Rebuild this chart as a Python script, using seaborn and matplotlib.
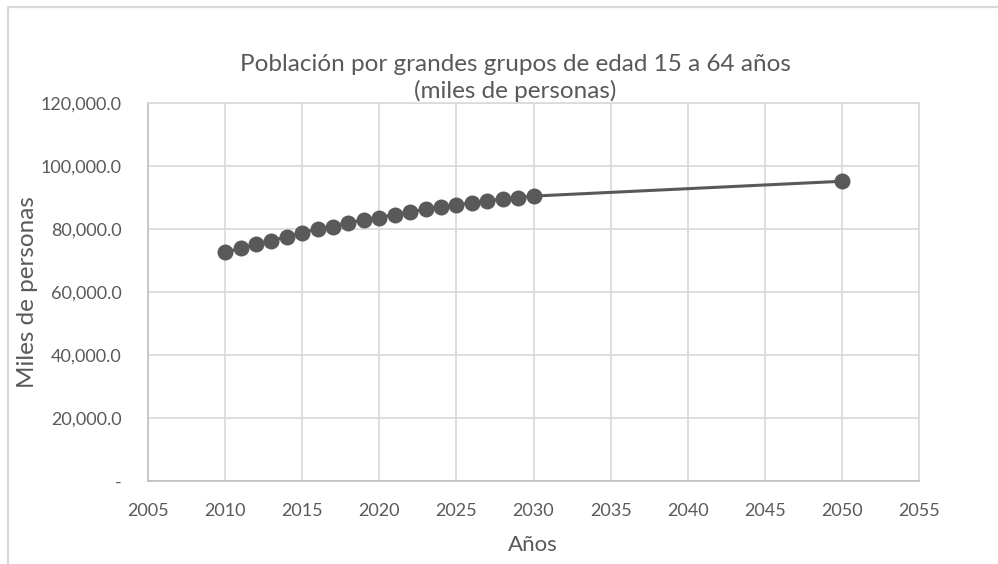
import matplotlib
matplotlib.use("Agg")
import matplotlib.pyplot as plt
import matplotlib.ticker as mticker
from matplotlib.lines import Line2D
import seaborn as sns
import pandas as pd

years = [2010, 2011, 2012, 2013, 2014, 2015, 2016, 2017, 2018, 2019, 2020,
         2021, 2022, 2023, 2024, 2025, 2026, 2027, 2028, 2029, 2030, 2050]
poblacion = [72600, 73900, 75150, 76300, 77550, 78800, 80000, 80750, 82000, 82850, 83600,
             84600, 85450, 86200, 86950, 87700, 88300, 88950, 89500, 90000, 90450, 95150]
title_text = "Población por grandes grupos de edad 15 a 64 años\n(miles de personas)"
x_label = "Años"
y_label = "Miles de personas"

sns.set_theme(style="white")
plt.rcParams['font.family'] = ['Lato', 'DejaVu Sans']

TXT = "#595959"
GRID = "#d9d9d9"

df = pd.DataFrame({"year": years, "value": poblacion})

fig = plt.figure(figsize=(9.98, 5.64), dpi=100)
ax = fig.add_axes([148/998, 1-481/564, (919-148)/998, (481-103)/564])

sns.lineplot(data=df, x="year", y="value", ax=ax, color="#595959",
             linewidth=2.2, marker="o", markersize=11.5, markeredgewidth=0,
             markerfacecolor="#595959")

ax.set_xlim(2005, 2055)
ax.set_ylim(0, 120000)
ax.xaxis.set_major_locator(mticker.MultipleLocator(5))
ax.yaxis.set_major_locator(mticker.MultipleLocator(20000))

def yfmt(v, pos):
    if abs(v) < 1e-9:
        return "-"
    return f"{v:,.1f}"
ax.yaxis.set_major_formatter(mticker.FuncFormatter(yfmt))
ax.xaxis.set_major_formatter(mticker.FuncFormatter(lambda v, p: f"{int(round(v))}"))

ax.grid(True, color=GRID, linewidth=1.2)
ax.set_axisbelow(True)
for side in ["top", "right"]:
    ax.spines[side].set_color(GRID)
    ax.spines[side].set_linewidth(1.2)
for side in ["left", "bottom"]:
    ax.spines[side].set_color("#bfbfbf")
    ax.spines[side].set_linewidth(1.2)

ax.tick_params(axis="both", length=0, colors=TXT, labelsize=13)
ax.tick_params(axis="y", pad=19)
ax.tick_params(axis="x", pad=16)

ax.set_xlabel("")
ax.set_ylabel("")
fig.text(533/998, 1-545/564, x_label, ha="center", va="center", color=TXT, fontsize=16)
fig.text(28/998, 1-292/564, y_label, ha="center", va="center", rotation=90, color=TXT, fontsize=17.5)
fig.text(515/998, 1-78/564, title_text, ha="center", va="center", color=TXT,
         fontsize=17.5, linespacing=1.3)

# chart frame (partially visible)
fig.add_artist(Line2D([8/998, 1.0], [1-7/564, 1-7/564], color=GRID, linewidth=1.6,
                      transform=fig.transFigure))
fig.add_artist(Line2D([8/998, 8/998], [0.0, 1-7/564], color=GRID, linewidth=1.6,
                      transform=fig.transFigure))

fig.savefig("out.png", dpi=100)
